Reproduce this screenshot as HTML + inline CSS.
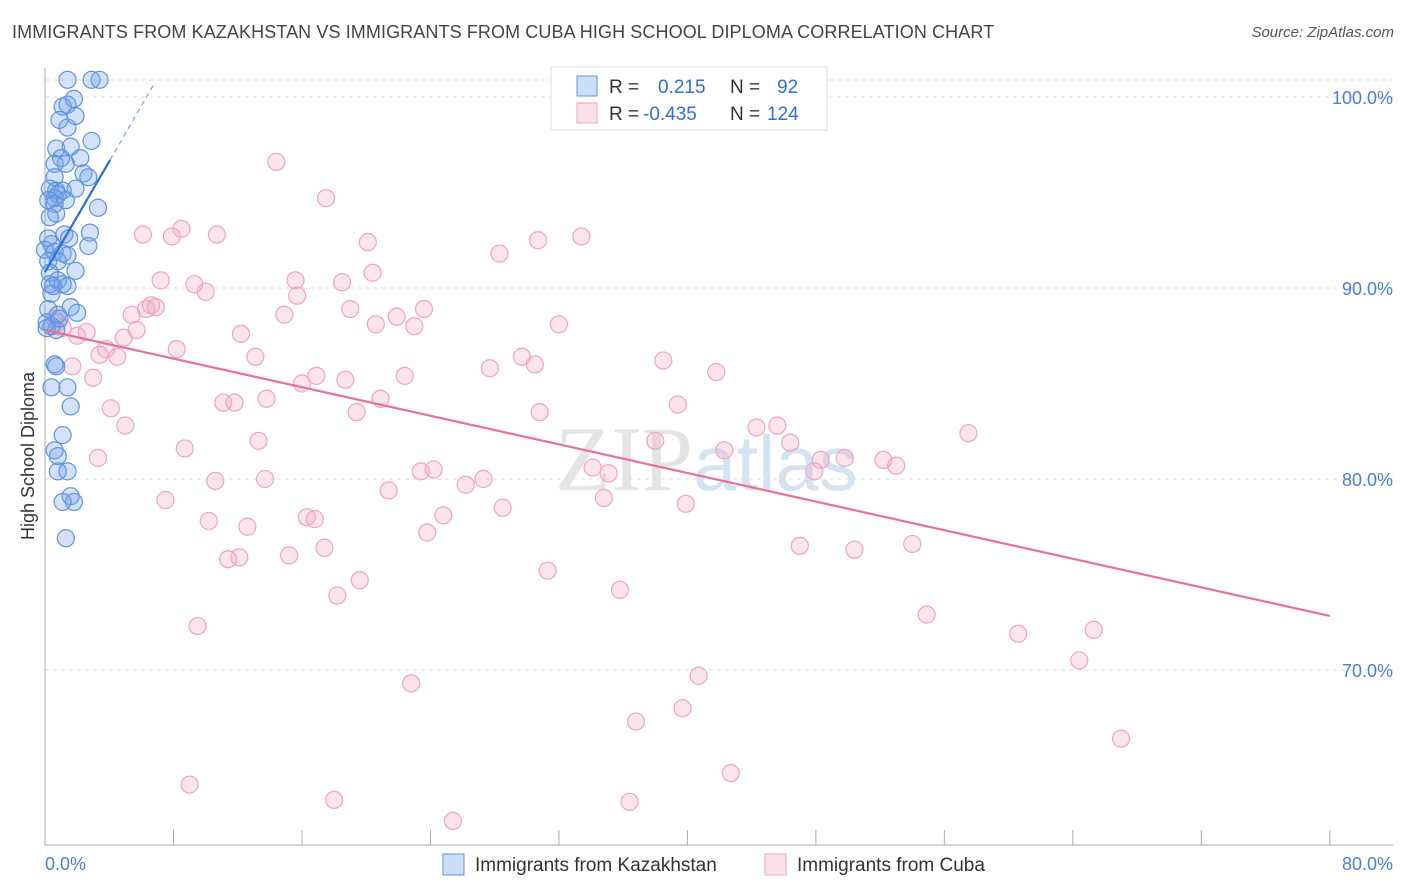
<!DOCTYPE html>
<html><head><meta charset="utf-8">
<style>
body{margin:0;background:#fff;font-family:"Liberation Sans",sans-serif;}
#wrap{position:relative;width:1406px;height:892px;overflow:hidden;}
.title{position:absolute;left:12px;top:22px;font-size:18px;color:#444;letter-spacing:0.1px}
.source{position:absolute;right:12px;top:24px;font-size:15px;color:#555;font-style:italic}
</style></head>
<body>
<div id="wrap">
<div class="title">IMMIGRANTS FROM KAZAKHSTAN VS IMMIGRANTS FROM CUBA HIGH SCHOOL DIPLOMA CORRELATION CHART</div>
<div class="source">Source: ZipAtlas.com</div>
<svg id="svg" width="1406" height="892" style="position:absolute;left:0;top:0"></svg>
</div>
<script>
// tick values
const yTicks=[100,90,80,70];
const xTickVals=[0,8,16,24,32,40,48,56,64,72,80];
// Kazakhstan series (x %, y %)
const kazX=[1.4,2.9,3.4,1.8,1.1,1.4,0.9,1.9,1.4,2.9,0.7,1.6,1.0,2.2,0.6,1.3,2.4,2.7,0.6,1.9,0.3,0.7,1.1,0.8,0.6,0.2,1.3,0.6,3.3,0.7,0.3,2.8,1.2,1.5,0.2,0.4,2.7,0.0,0.6,1.1,1.4,0.2,0.8,1.9,0.3,0.8,0.3,1.1,1.4,0.5,0.2,1.6,2.0,0.8,0.1,0.4,0.7,0.6,0.4,1.4,1.6,1.1,0.6,0.8,0.8,1.4,1.6,1.8,1.1,1.3,0.7,0.4,0.9,0.1];
const kazY=[100.9,100.9,100.9,99.9,99.5,99.6,98.8,99.0,98.4,97.7,97.3,97.4,96.8,96.8,96.5,96.5,96.0,95.8,95.8,95.2,95.2,95.1,95.1,94.9,94.7,94.6,94.6,94.4,94.2,93.9,93.7,92.9,92.8,92.6,92.6,92.3,92.2,92.0,91.9,91.8,91.7,91.4,91.4,90.9,90.8,90.4,90.2,90.2,90.1,90.1,88.9,89.0,88.7,88.6,88.2,88.0,87.8,86.0,84.8,84.8,83.8,82.3,81.5,81.2,80.4,80.4,79.1,78.8,78.8,76.9,85.9,89.7,88.4,87.9];
// Cuba series (x %, y %)
const cubX=[14.4,17.5,8.5,6.1,7.9,10.7,20.1,33.4,30.7,28.3,20.4,7.2,9.3,10.0,15.6,18.5,15.7,5.4,6.6,6.9,6.3,14.9,19.0,23.6,21.9,20.6,23.0,32.0,0.6,0.8,1.1,2.0,2.6,5.7,4.9,12.2,3.8,3.4,4.5,1.7,3.0,8.2,13.1,16.9,18.7,16.0,22.4,27.7,29.7,30.5,38.5,41.8,4.1,5.0,11.1,11.8,13.8,19.4,20.9,30.8,39.4,44.3,45.6,46.4,42.3,38.0,49.8,52.2,53.0,57.5,3.3,8.7,13.3,10.6,13.7,23.4,24.2,21.4,27.3,26.2,34.1,35.1,47.9,48.3,7.5,10.2,12.6,16.3,16.8,24.8,28.5,34.8,39.9,23.8,11.4,12.1,15.2,17.4,19.6,18.2,31.3,35.8,47.0,50.4,54.0,9.5,22.8,36.8,40.7,39.7,54.9,60.6,65.3,64.4,67.0,9.0,18.0,25.4,36.4,42.7,29.9];
const cubY=[96.6,94.7,93.1,92.8,92.7,92.8,92.4,92.7,92.5,91.8,90.8,90.4,90.2,89.8,90.4,90.3,89.6,88.6,89.1,89.0,88.9,88.6,88.9,88.9,88.5,88.1,88.0,88.1,88.4,88.2,87.9,87.5,87.7,87.8,87.4,87.6,86.8,86.5,86.4,85.9,85.3,86.8,86.4,85.4,85.2,85.0,85.4,85.8,86.4,86.0,86.2,85.6,83.7,82.8,84.0,84.0,84.2,83.5,84.2,83.5,83.9,82.7,82.8,81.9,81.5,82.0,81.1,81.0,80.7,82.4,81.1,81.6,82.0,79.9,80.0,80.4,80.5,79.4,80.0,79.7,80.6,80.3,80.4,81.0,78.9,77.8,77.5,78.0,77.9,78.1,78.5,79.0,78.7,77.2,75.8,75.9,76.0,76.4,74.7,73.9,75.2,74.2,76.5,76.3,76.6,72.3,69.3,67.3,69.7,68.0,72.9,71.9,72.1,70.5,66.4,64.0,63.2,62.1,63.1,64.6,57.2];
const kazTrend=[0,90.84,4.05,96.7,6.85,100.77];
const cubTrend=[0,87.8,80,72.83];

const svg=document.getElementById('svg');
const NS='http://www.w3.org/2000/svg';
const X=v=>45+v*16.06;
const Y=v=>97+(100-v)*19.1;
function mk(t,a,parent){const e=document.createElementNS(NS,t);for(const k in a)e.setAttribute(k,a[k]);(parent||svg).appendChild(e);return e;}

// watermark
const wm=mk('text',{x:555,y:490,'font-size':92,'font-family':'Liberation Serif, serif',fill:'#e4e4e4'});


wm.innerHTML='ZIP<tspan fill="#d5e2f2" font-family="Liberation Sans, sans-serif" font-size="78">atlas</tspan>';

// gridlines and y labels
yTicks.forEach(v=>{
 const g=mk('line',{x1:45,x2:1393,y1:Y(v),y2:Y(v),stroke:'#ddd','stroke-dasharray':'4,4'});
 
 
 const t=mk('text',{x:1393,y:Y(v)+7,'text-anchor':'end','font-size':18,fill:'#4a7fd4'});
 
 
 t.textContent=v.toFixed(1)+'%';
});
const tg=mk('line',{x1:45,x2:1393,y1:80,y2:80,stroke:'#ddd','stroke-dasharray':'4,4'});


// axes
const ya=mk('line',{x1:45,x2:45,y1:68,y2:845,stroke:'#aaa'});


const xa=mk('line',{x1:45,x2:1393,y1:845,y2:845,stroke:'#aaa'});


xTickVals.forEach(v=>{
 const t=mk('line',{x1:X(v),x2:X(v),y1:830,y2:845,stroke:'#aaa'});
 
 
});
[[0,'start','0.0%',45],[80,'end','80.0%',1393]].forEach(a=>{
 const t=mk('text',{x:a[3],y:870,'text-anchor':a[1],'font-size':18,fill:'#4a7fd4'});
 
 
 t.textContent=a[2];
});
const yt=mk('text',{x:34,y:456,'text-anchor':'middle','font-size':18,fill:'#333',transform:'rotate(-90 34 456)'});


yt.textContent='High School Diploma';

// points
for(let i=0;i<cubX.length;i++){
 const c=mk('circle',{cx:X(cubX[i]),cy:Y(cubY[i]),r:8.5,fill:'rgba(244,166,196,0.3)',stroke:'#f0a3be','stroke-width':1.2});
 
 
}
for(let i=0;i<kazX.length;i++){
 const c=mk('circle',{cx:X(kazX[i]),cy:Y(kazY[i]),r:8.5,fill:'rgba(110,160,235,0.3)',stroke:'#5f93e0','stroke-width':1.2});
 
 
}
// trend lines
const cl=mk('line',{x1:X(cubTrend[0]),y1:Y(cubTrend[1]),x2:X(cubTrend[2]),y2:Y(cubTrend[3]),stroke:'#e8709a','stroke-width':2.2});


const kl=mk('line',{x1:X(kazTrend[0]),y1:Y(kazTrend[1]),x2:X(kazTrend[2]),y2:Y(kazTrend[3]),stroke:'#2e6fd8','stroke-width':2.2});


const kd=mk('line',{x1:X(kazTrend[2]),y1:Y(kazTrend[3]),x2:X(kazTrend[4]),y2:Y(kazTrend[5]),stroke:'#7aa4e6','stroke-width':1.2,'stroke-dasharray':'5,4'});



// legend box
const lg=mk('g',{});


mk('rect',{x:551,y:67,width:276,height:63,fill:'#fff',stroke:'#ddd'},lg);
const rows=[['rgba(110,160,235,0.35)','#5f93e0','0.215','92',86],['rgba(244,166,196,0.35)','#f0a3be','-0.435','124',113]];
rows.forEach(r=>{
 mk('rect',{x:577,y:r[4]-10,width:20,height:20,fill:r[0],stroke:r[1]},lg);
 const a=mk('text',{x:609,y:r[4]+7,'font-size':19,fill:'#333'},lg);
 a.innerHTML='R = <tspan fill="#2e6fd8" x="'+(r[2].startsWith('-')?643:658)+'">'+r[2]+'</tspan><tspan x="730">N = </tspan><tspan fill="#2e6fd8" x="'+(r[3].length>2?767:777)+'">'+r[3]+'</tspan>';
});

// bottom legend
[[443,'Immigrants from Kazakhstan','rgba(110,160,235,0.35)','#5f93e0',475],[765,'Immigrants from Cuba','rgba(244,166,196,0.35)','#f0a3be',797]].forEach(l=>{
 const g=mk('g',{});
 
 
 mk('rect',{x:l[0],y:854,width:21,height:21,fill:l[2],stroke:l[3]},g);
 const t=mk('text',{x:l[4],y:871,'font-size':19,fill:'#333'},g);
 t.textContent=l[1];
});
</script>
</body></html>
